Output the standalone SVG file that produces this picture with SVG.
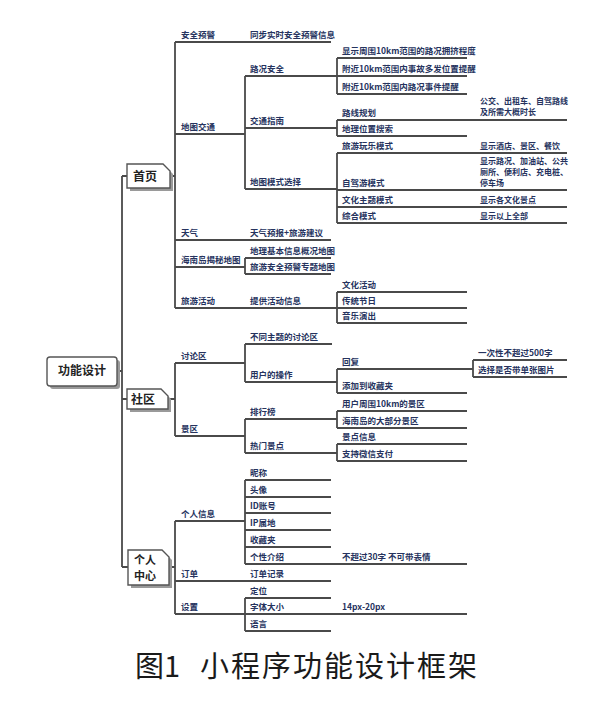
<svg xmlns="http://www.w3.org/2000/svg" width="600" height="717" viewBox="0 0 600 717">
<defs>
<style>
.t{font-family:"Noto Sans CJK SC","Noto Sans",sans-serif;font-size:8.5px;font-weight:bold;fill:#26335e}
.s{font-size:8px}
.b{font-family:"Noto Sans CJK SC","Noto Sans",sans-serif;font-size:12px;font-weight:bold;fill:#222}
.b2{font-size:11px}
.cap{font-family:"Noto Sans CJK SC","Noto Sans",sans-serif;font-size:29px;fill:#1a1a1a}
.c line,.c path{stroke:#4a4a4a;stroke-width:1.8;fill:none}
.box{fill:#fff;stroke:#555;stroke-width:1.4}
.sh{fill:#9a9a9a}
</style>
</defs>
<rect width="600" height="717" fill="#fff"/>
<g class="c" id="connectors">
<path d="M122,176V567M117,371H122M122,176H127M122,399H127M122,567H128M170,176H175M168,399H175M169,567H175"/>
<path d="M175,42V308M175,42H331M175,134H245M245,76V189M245,76H337M337,58V94M337,58H467M337,76H467M337,94H467M245,128H337M337,120V136M337,120H567M337,136H467M245,189H337M337,153V223M337,153H567M337,190H567M337,207H567M337,223H567M175,240H331M175,267H245M245,258V274M245,258H331M245,274H331M175,308H337M337,292V323M337,292H467M337,308H467M337,323H467"/>
<path d="M175,363V436M175,363H245M245,344V382M245,344H332M245,382H337M337,369V393M337,369H473M473,360V377M473,360H567M473,377H567M337,393H467M175,436H245M245,419V453M245,419H337M337,411V428M337,411H467M337,428H467M245,453H337M337,444V461M337,444H467M337,461H467"/>
<path d="M175,521V614M175,521H245M245,480V564M245,480H331M245,497H331M245,513H331M245,530H331M245,547H331M245,564H467M175,581H331M175,614H245M245,598V631M245,598H331M245,631H331M245,614H467"/>
</g>
<g id="root">
<rect class="sh" x="50" y="360" width="70" height="29" rx="3"/>
<rect class="box" x="47" y="357" width="70" height="29" rx="3"/>
<text class="b" x="82" y="375" text-anchor="middle">功能设计</text>
</g>
<g id="shouye">
<path class="sh" d="M130,167H166L173,174V191H130Z"/>
<path class="box" d="M127,164H163L170,171V188H127Z"/>
<text class="b" x="145" y="181" text-anchor="middle">首页</text>
</g>
<g id="shequ">
<path class="sh" d="M130,392H164L171,399V412H130Z"/>
<path class="box" d="M127,389H161L168,396V409H127Z"/>
<text class="b" x="143" y="404" text-anchor="middle">社区</text>
</g>
<g id="gerenzhongxin">
<path class="sh" d="M131,553H165L172,560V588H131Z"/>
<path class="box" d="M128,550H162L169,557V585H128Z"/>
<text class="b b2" text-anchor="middle"><tspan x="145" y="564">个人</tspan><tspan x="145" y="580">中心</tspan></text>
</g>
<g id="n-anquan"><text class="t" x="181" y="38">安全预警</text><text class="t" x="250" y="38">同步实时安全预警信息</text></g>
<g id="n-ditujiaotong"><text class="t" x="181" y="130">地图交通</text></g>
<g id="n-lukuang"><text class="t" x="250" y="72">路况安全</text>
<text class="t" x="342" y="54">显示周围10km范围的路况拥挤程度</text>
<text class="t" x="342" y="72">附近10km范围内事故多发位置提醒</text>
<text class="t" x="342" y="90">附近10km范围内路况事件提醒</text></g>
<g id="n-jiaotong"><text class="t" x="250" y="124">交通指南</text>
<text class="t" x="342" y="116">路线规划</text>
<text class="t s" x="480" y="104">公交、出租车、自驾路线</text>
<text class="t s" x="480" y="115">及所需大概时长</text>
<text class="t" x="342" y="132">地理位置搜索</text></g>
<g id="n-moshi"><text class="t" x="250" y="185">地图模式选择</text>
<text class="t" x="342" y="149">旅游玩乐模式</text><text class="t s" x="480" y="149">显示酒店、景区、餐饮</text>
<text class="t" x="342" y="186">自驾游模式</text>
<text class="t s" x="480" y="164">显示路况、加油站、公共</text>
<text class="t s" x="480" y="175">厕所、便利店、充电桩、</text>
<text class="t s" x="480" y="186">停车场</text>
<text class="t" x="342" y="203">文化主题模式</text><text class="t s" x="480" y="203">显示各文化景点</text>
<text class="t" x="342" y="219">综合模式</text><text class="t s" x="480" y="219">显示以上全部</text></g>
<g id="n-tianqi"><text class="t" x="181" y="236">天气</text><text class="t" x="250" y="236">天气预报+旅游建议</text></g>
<g id="n-jiemi"><text class="t" x="181" y="263">海南岛揭秘地图</text>
<text class="t" x="250" y="254">地理基本信息概况地图</text>
<text class="t" x="250" y="270">旅游安全预警专题地图</text></g>
<g id="n-huodong"><text class="t" x="181" y="304">旅游活动</text><text class="t" x="250" y="304">提供活动信息</text>
<text class="t" x="342" y="288">文化活动</text><text class="t" x="342" y="304">传统节日</text><text class="t" x="342" y="319">音乐演出</text></g>
<g id="n-taolun"><text class="t" x="181" y="359">讨论区</text>
<text class="t" x="250" y="340">不同主题的讨论区</text>
<text class="t" x="250" y="378">用户的操作</text>
<text class="t" x="342" y="365">回复</text>
<text class="t" x="478" y="356">一次性不超过500字</text>
<text class="t" x="478" y="373">选择是否带单张图片</text>
<text class="t" x="342" y="389">添加到收藏夹</text></g>
<g id="n-jingqu"><text class="t" x="181" y="432">景区</text>
<text class="t" x="250" y="415">排行榜</text>
<text class="t" x="342" y="407">用户周围10km的景区</text>
<text class="t" x="342" y="424">海南岛的大部分景区</text>
<text class="t" x="250" y="449">热门景点</text>
<text class="t" x="342" y="440">景点信息</text>
<text class="t" x="342" y="457">支持微信支付</text></g>
<g id="n-gerenxinxi"><text class="t" x="181" y="517">个人信息</text>
<text class="t" x="250" y="476">昵称</text>
<text class="t" x="250" y="493">头像</text>
<text class="t" x="250" y="509">ID账号</text>
<text class="t" x="250" y="526">IP属地</text>
<text class="t" x="250" y="543">收藏夹</text>
<text class="t" x="250" y="560">个性介绍</text>
<text class="t" x="342" y="560">不超过30字 不可带表情</text></g>
<g id="n-dingdan"><text class="t" x="181" y="577">订单</text><text class="t" x="250" y="577">订单记录</text></g>
<g id="n-shezhi"><text class="t" x="181" y="610">设置</text>
<text class="t" x="250" y="594">定位</text>
<text class="t" x="250" y="610">字体大小</text>
<text class="t" x="342" y="610">14px-20px</text>
<text class="t" x="250" y="627">语言</text></g>
<g id="caption">
<text class="cap" x="135" y="677">图1</text>
<text class="cap" x="200" y="677" letter-spacing="2">小程序功能设计框架</text>
</g>
</svg>
